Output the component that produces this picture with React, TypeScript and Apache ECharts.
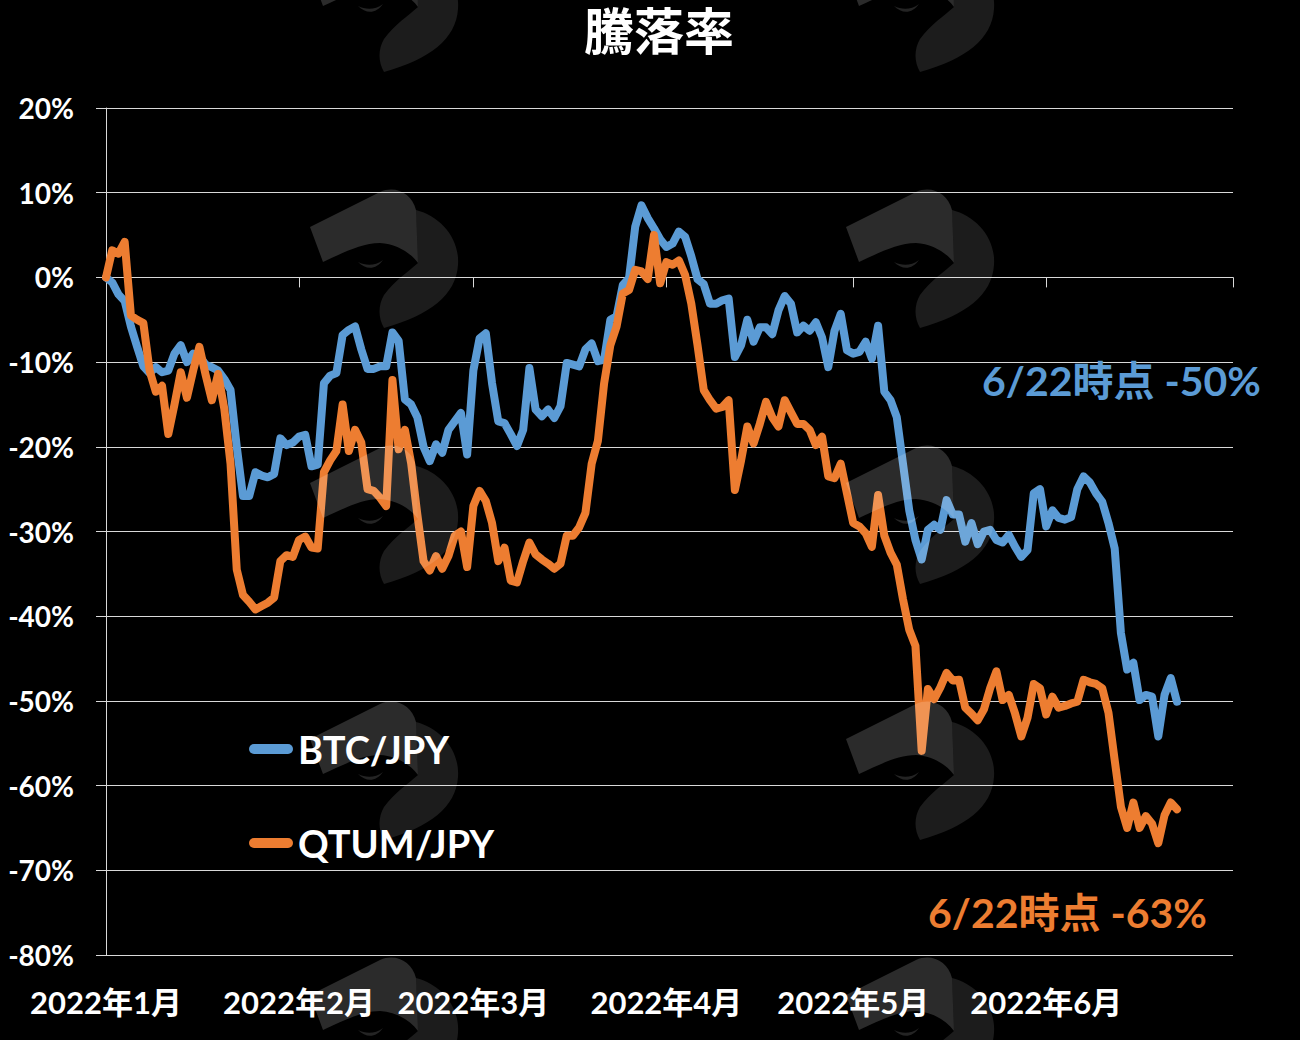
import React, { useEffect, useRef } from "react";
import * as echarts from "echarts";

const chartTitle = "騰落率";
const seriesNames = ["BTC/JPY", "QTUM/JPY"];
const seriesColors = ["#5B9BD5", "#ED7D31"];
// day index (0 = 2022-01-01)
const monthStartDays = [0, 31, 59, 90, 120, 151];
const monthLabels = ["2022年1月", "2022年2月", "2022年3月", "2022年4月", "2022年5月", "2022年6月"];
const monthTickDays = [31, 59, 90, 120, 151, 181];
const xMaxDay = 181;
const yMin = -80;
const yMax = 20;
const yStep = 10;
const annotationTexts = ["6/22時点 -50%", "6/22時点 -63%"];

// BTC/JPY daily change (%) from 2022-01-01 to 2022-06-22
const btcValues = [
  0, -0.6, -2.0, -2.8, -5.8, -8.2, -10.5, -11.3, -10.6, -11.2,
  -11.0, -9.0, -8.0, -10.0, -9.0, -9.3, -10.3, -10.6, -11.0, -12.0,
  -13.3, -20.0, -25.8, -25.8, -23.0, -23.4, -23.6, -23.2, -19.0, -19.8,
  -19.5, -18.8, -18.6, -22.3, -22.1, -12.5, -11.6, -11.3, -6.8, -6.2,
  -5.8, -8.5, -10.8, -10.8, -10.5, -10.5, -6.5, -7.5, -14.4, -15.0,
  -16.5, -20.0, -21.7, -19.7, -20.7, -18.0, -17.0, -16.0, -20.9, -11.0,
  -7.2, -6.6, -12.5, -17.0, -17.2, -18.5, -19.9, -18.0, -10.7, -15.6,
  -16.4, -15.6, -16.6, -15.2, -10.1, -10.3, -10.5, -8.5, -7.8, -9.9,
  -9.7, -5.0, -4.6, -0.9, -0.1, 6.0, 8.5, 7.0, 5.8, 4.5,
  3.6, 4.0, 5.4, 4.8, 2.5, -0.2, -0.8, -3.1, -3.1, -2.7,
  -2.5, -9.4, -8.0, -5.0, -7.6, -5.9, -5.9, -6.7, -3.9, -2.2,
  -3.1, -6.5, -5.7, -6.3, -5.3, -7.1, -10.6, -6.3, -4.3, -8.6,
  -9.0, -8.8, -7.6, -9.6, -5.7, -13.5, -14.5, -16.5, -22.0, -27.5,
  -31.0, -33.3, -29.8, -29.2, -29.8, -26.3, -28.0, -28.0, -31.2, -29.0,
  -31.5, -30.0, -29.8, -31.0, -31.3, -30.4, -31.8, -33.0, -32.2, -25.5,
  -25.0, -29.4, -27.5, -28.4, -28.6, -28.3, -25.0, -23.5, -24.2, -25.5,
  -26.5, -29.0, -32.0, -42.0, -46.3, -45.5, -49.9, -49.3, -49.5, -54.2,
  -49.3, -47.3, -50.1,
];

// QTUM/JPY daily change (%) from 2022-01-01 to 2022-06-22
const qtumValues = [
  0, 3.2, 2.8, 4.2, -4.5, -5.0, -5.4, -11.0, -13.5, -12.8,
  -18.5, -15.0, -11.2, -14.2, -11.0, -8.2, -11.5, -14.5, -11.4, -15.5,
  -22.0, -34.5, -37.5, -38.3, -39.2, -38.8, -38.4, -37.8, -33.5, -32.8,
  -33.0, -31.0, -30.6, -31.9, -32.0, -23.0, -21.6, -20.5, -15.0, -20.5,
  -18.0, -19.5, -25.0, -25.2, -26.0, -27.0, -12.1, -20.3, -18.0, -21.9,
  -28.0, -33.5, -34.6, -32.9, -34.4, -32.9, -30.5, -30.0, -34.2, -27.0,
  -25.2, -26.4, -29.0, -33.5, -31.9, -35.8, -36.0, -33.5, -31.3, -32.7,
  -33.3, -33.8, -34.4, -33.8, -30.5, -30.5, -29.5, -27.8, -22.0, -19.3,
  -12.5, -8.0, -5.8, -1.9, -1.5, 0.9, 0.7, -0.2, 5.0, -0.7,
  1.8, 1.5, 2.0, 0.3, -3.1, -8.0, -13.3, -14.5, -15.5, -15.3,
  -14.5, -25.1, -21.6, -17.6, -19.6, -17.3, -14.7, -16.5, -17.6, -14.5,
  -15.9, -17.3, -17.3, -18.0, -19.8, -18.8, -23.5, -23.7, -22.0, -25.5,
  -29.0, -29.4, -30.2, -31.8, -25.7, -30.5, -32.5, -33.9, -38.0, -41.6,
  -43.5, -55.9, -48.6, -49.8, -48.4, -46.7, -47.6, -47.5, -50.8, -51.5,
  -52.3, -51.0, -48.5, -46.5, -49.9, -49.3, -51.5, -54.2, -52.0, -48.0,
  -48.5, -51.6, -49.5, -50.8, -50.6, -50.3, -50.1, -47.5, -47.8, -48.0,
  -48.5, -51.4, -57.0, -62.5, -65.0, -62.0, -65.0, -63.6, -64.5, -66.8,
  -63.5, -62.0, -62.8,
];

// watermark logo outline pieces (local coordinates)
const wmPathA =
  "M10,47 L80,12 C96,5 112,14 116,30 L118,83 C110,72 96,64 80,63 C62,63 45,72 23,82 Z";
const wmPathB =
  "M116,30 C140,36 160,58 158,85 C156,115 130,135 84,148 C78,138 78,125 84,115 C95,100 108,92 118,83 Z";
const wmPathEye = "M58,82 C66,90 76,90 83,80 C75,86 66,86 58,82 Z";
const wmColumns = [300, 836];
const wmRows = [-76, 180, 436, 692, 948];

echarts.graphic.registerShape("wmA", echarts.graphic.extendPath(wmPathA, {}) as any);
echarts.graphic.registerShape("wmB", echarts.graphic.extendPath(wmPathB, {}) as any);
echarts.graphic.registerShape("wmEye", echarts.graphic.extendPath(wmPathEye, {}) as any);

const FONT = "Lato, 'Noto Sans CJK JP', sans-serif";
const GRID_COLOR = "#d9d9d9";

export default function App() {
  const ref = useRef<HTMLDivElement>(null);

  useEffect(() => {
    if (!ref.current) return;
    const chart = echarts.init(ref.current, null, { renderer: "svg" });
    const seriesData = [btcValues, qtumValues];

    const watermarks: any[] = [];
    wmColumns.forEach((wx) => {
      wmRows.forEach((wy) => {
        watermarks.push(
          { type: "wmA", x: wx, y: wy, z: 50, silent: true, style: { fill: "rgba(255,255,255,0.17)" } },
          { type: "wmB", x: wx, y: wy, z: 50, silent: true, style: { fill: "rgba(255,255,255,0.11)" } },
          { type: "wmEye", x: wx, y: wy, z: 50, silent: true, style: { fill: "rgba(255,255,255,0.14)" } }
        );
      });
    });

    chart.setOption({
      animation: false,
      backgroundColor: "#000000",
      textStyle: { fontFamily: FONT },
      title: {
        text: chartTitle,
        left: 584,
        top: 7,
        padding: 0,
        textStyle: { color: "#ffffff", fontSize: 50, lineHeight: 48, fontWeight: "bold", fontFamily: FONT },
      },
      grid: { left: 106, right: 67, top: 108, bottom: 85, containLabel: false },
      legend: {
        orient: "vertical",
        left: 249,
        top: 730,
        padding: 0,
        itemWidth: 44,
        itemHeight: 10,
        itemGap: 56,
        icon: "path://M5,0L39,0A5,5,0,0,1,39,10L5,10A5,5,0,0,1,5,0Z",
        data: seriesNames,
        textStyle: { color: "#ffffff", fontSize: 38, fontWeight: "bold", fontFamily: FONT },
      },
      xAxis: [
        {
          type: "value",
          min: 0,
          max: xMaxDay,
          position: "bottom",
          axisLine: { show: false, onZero: false },
          axisTick: { show: false },
          splitLine: { show: false },
          axisLabel: {
            customValues: monthStartDays,
            color: "#ffffff",
            fontSize: 31,
            fontWeight: "bold",
            fontFamily: FONT,
            margin: 31,
            formatter: (v: number) => {
              const i = monthStartDays.indexOf(Math.round(v));
              return i >= 0 ? monthLabels[i] : "";
            },
          },
        },
        {
          type: "value",
          min: 0,
          max: xMaxDay,
          position: "bottom",
          axisLine: { show: true, onZero: true, lineStyle: { color: GRID_COLOR, width: 1 } },
          axisTick: {
            show: true,
            customValues: monthTickDays,
            length: 10,
            lineStyle: { color: GRID_COLOR, width: 1 },
          },
          axisLabel: { show: false },
          splitLine: { show: false },
        },
      ],
      yAxis: {
        type: "value",
        min: yMin,
        max: yMax,
        interval: yStep,
        axisLine: { show: true, lineStyle: { color: GRID_COLOR, width: 1 } },
        axisTick: { show: true, length: 10, lineStyle: { color: GRID_COLOR, width: 1 } },
        splitLine: { show: true, lineStyle: { color: GRID_COLOR, width: 1 } },
        axisLabel: {
          color: "#ffffff",
          fontSize: 28,
          fontWeight: "bold",
          fontFamily: FONT,
          margin: 32,
          formatter: (v: number) => `${v}%`,
        },
      },
      series: seriesNames.map((name, s) => ({
        name,
        type: "line",
        xAxisIndex: 0,
        symbol: "none",
        showSymbol: false,
        smooth: false,
        color: seriesColors[s],
        lineStyle: { color: seriesColors[s], width: 8, cap: "round", join: "round" },
        data: seriesData[s].map((v, i) => [i, v]),
        z: 2 + s,
      })),
      graphic: [
        ...watermarks,
        {
          type: "text",
          x: 982,
          y: 380,
          z: 60,
          style: {
            text: annotationTexts[0],
            fill: seriesColors[0],
            fontSize: 41,
            fontWeight: "bold",
            fontFamily: FONT,
            align: "left",
            verticalAlign: "middle",
          },
        },
        {
          type: "text",
          x: 928,
          y: 912,
          z: 60,
          style: {
            text: annotationTexts[1],
            fill: seriesColors[1],
            fontSize: 41,
            fontWeight: "bold",
            fontFamily: FONT,
            align: "left",
            verticalAlign: "middle",
          },
        },
      ],
    });

    return () => chart.dispose();
  }, []);

  return (
    <div
      ref={ref}
      style={{ position: "absolute", left: 0, top: 0, width: 1300, height: 1040, background: "#000" }}
    />
  );
}
